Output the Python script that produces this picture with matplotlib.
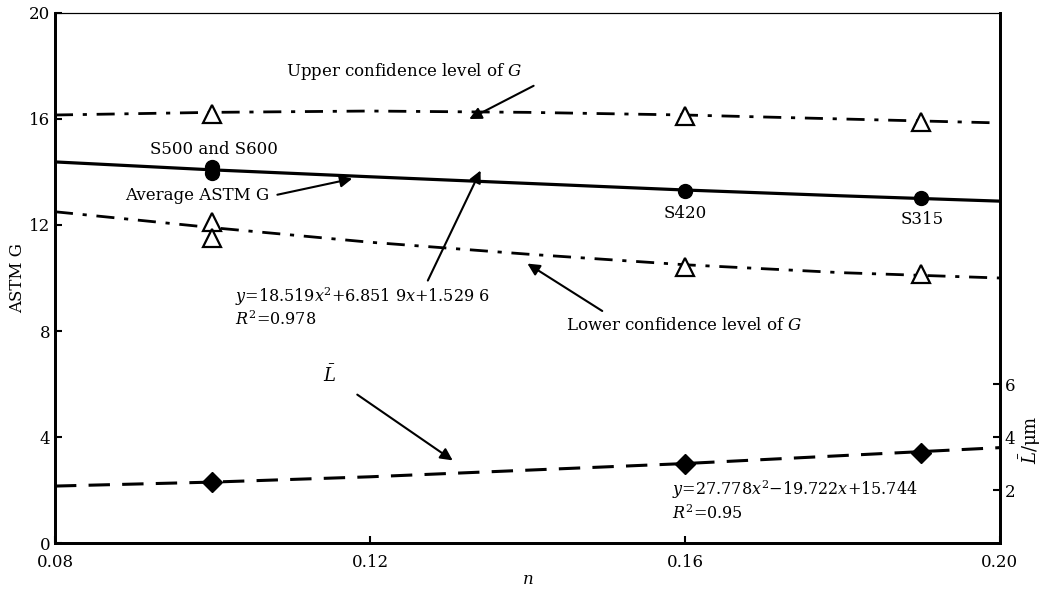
import numpy as np
import matplotlib.pyplot as plt

plt.rcParams['font.family'] = ['DejaVu Serif']
plt.rcParams['mathtext.fontset'] = 'dejavuserif'

# measured points
n_pts = [0.10, 0.10, 0.16, 0.19]
g_avg = [14.2, 13.95, 13.3, 13.0]
n_conf = [0.10, 0.16, 0.19]
g_upper = [16.2, 16.1, 15.9]
n_lower = [0.10, 0.10, 0.16, 0.19]
g_lower = [12.1, 11.5, 10.4, 10.15]
n_len = [0.10, 0.16, 0.19]
l_mean = [2.3, 3.0, 3.4]

# trend lines
n_line = [0.08, 0.10, 0.12, 0.14, 0.16, 0.18, 0.20]
avg_line = [14.38, 14.08, 13.82, 13.57, 13.32, 13.1, 12.9]
upper_line = [16.15, 16.25, 16.3, 16.25, 16.15, 16.0, 15.85]
lower_line = [12.5, 11.9, 11.35, 10.9, 10.5, 10.2, 10.0]
len_line = [2.15, 2.3, 2.5, 2.75, 3.0, 3.3, 3.6]

fig = plt.figure(figsize=(10.47, 5.89), dpi=100)
ax = fig.add_axes([0.0525, 0.078, 0.9025, 0.9])
ax2 = ax.twinx()

ax.plot(n_line, avg_line, color='black', lw=2.3)
ax.plot(n_line, upper_line, color='black', lw=2, dashes=(6.5, 3.5, 1.5, 3.5))
ax.plot(n_line, lower_line, color='black', lw=2, dashes=(6.5, 3.5, 1.5, 3.5))
ax.plot(n_pts, g_avg, 'o', color='black', ms=10)
ax.plot(n_conf, g_upper, '^', mfc='white', mec='black', mew=1.6, ms=13)
ax.plot(n_lower, g_lower, '^', mfc='white', mec='black', mew=1.6, ms=13)

ax2.plot(n_line, len_line, color='black', lw=2.2, dashes=(7, 4))
ax2.plot(n_len, l_mean, 'D', color='black', ms=10)

ax.set_xlim(0.08, 0.20)
ax.set_ylim(0, 20)
ax2.set_ylim(0, 20)
ax.set_xticks([0.08, 0.12, 0.16, 0.20])
ax.set_xticklabels(['0.08', '0.12', '0.16', '0.20'])
ax.set_yticks([0, 4, 8, 12, 16, 20])
ax2.set_yticks([2, 4, 6])

for a in (ax, ax2):
    a.tick_params(direction='in', labelsize=12, width=1.5, length=5)
    for s in a.spines.values():
        s.set_linewidth(2)
    a.spines['top'].set_linewidth(0.8)
ax.tick_params(axis='x', pad=8)

ax.set_xlabel('$n$', fontsize=12, labelpad=0)
ax.set_ylabel('ASTM G', fontsize=12, labelpad=2)
fig.text(1030 / 1047, 1 - 440 / 589, r'$\bar{L}$/μm', fontsize=13, rotation=90,
         ha='center', va='center')

fs = 12
arrow = dict(arrowstyle='-|>', color='black', lw=1.5, mutation_scale=18)

ax.annotate('Upper confidence level of $G$', xy=(0.1325, 16.05), xytext=(0.1244, 17.8),
            fontsize=fs, ha='center', va='center')
ax.annotate('', xy=(0.1323, 15.95), xytext=(0.1411, 17.3), arrowprops=arrow)
ax.text(0.1002, 14.85, 'S500 and S600', fontsize=fs, ha='center', va='center')
ax.text(0.098, 13.1, 'Average ASTM G', fontsize=fs, ha='center', va='center')
ax.annotate('', xy=(0.1181, 13.77), xytext=(0.1079, 13.12), arrowprops=arrow)
ax.text(0.1601, 12.45, 'S420', fontsize=fs, ha='center', va='center')
ax.text(0.1901, 12.19, 'S315', fontsize=fs, ha='center', va='center')
ax.text(0.1029, 9.3, r'$y$=18.519$x^2$+6.851 9$x$+1.529 6', fontsize=11.5, ha='left', va='center')
ax.text(0.1029, 8.42, r'$R^2$=0.978', fontsize=11.5, ha='left', va='center')
ax.annotate('', xy=(0.1342, 14.15), xytext=(0.1272, 9.81), arrowprops=arrow)
ax.text(0.1599, 8.19, 'Lower confidence level of $G$', fontsize=fs, ha='center', va='center')
ax.annotate('', xy=(0.1397, 10.6), xytext=(0.1498, 8.7), arrowprops=arrow)
ax.text(0.1149, 6.34, r'$\bar{L}$', fontsize=fs + 1, ha='center', va='center')
ax.annotate('', xy=(0.1308, 3.06), xytext=(0.1181, 5.66), arrowprops=arrow)
ax.text(0.1584, 2.0, r'$y$=27.778$x^2$−19.722$x$+15.744', fontsize=11.5, ha='left', va='center')
ax.text(0.1584, 1.1, r'$R^2$=0.95', fontsize=11.5, ha='left', va='center')

fig.savefig('out.png', dpi=100)
